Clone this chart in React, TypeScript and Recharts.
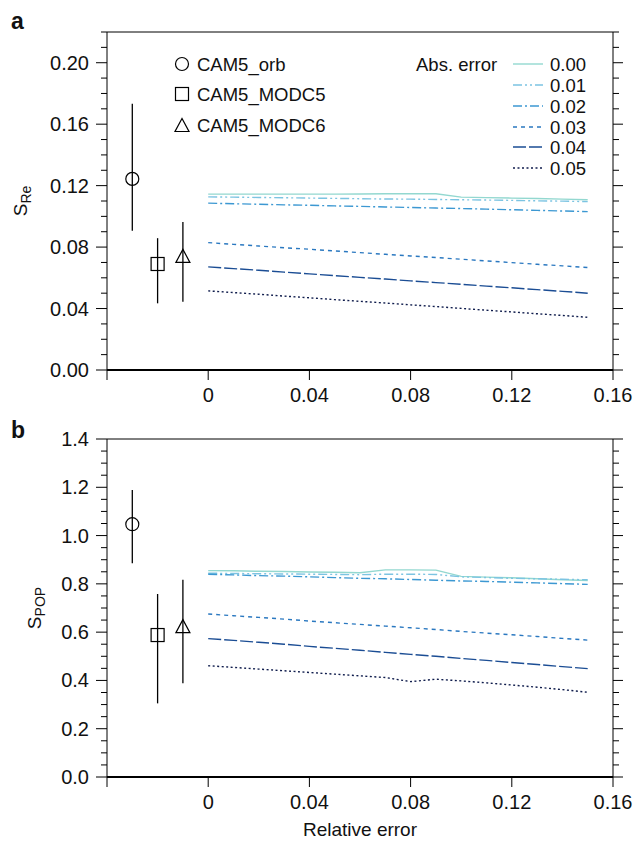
import { ComposedChart, Line, Scatter, ErrorBar, XAxis, YAxis, Legend } from "recharts";

// relative error (x) for the sensitivity curves
const relErr = [0, 0.01, 0.02, 0.03, 0.04, 0.05, 0.06, 0.07, 0.08, 0.09, 0.1, 0.11, 0.12, 0.13, 0.14, 0.15];
const absErrLabels = ["0.00", "0.01", "0.02", "0.03", "0.04", "0.05"];

// panel a: S_Re for abs. error 0.00 .. 0.05
const sRe0 = [0.1145, 0.1145, 0.1145, 0.1145, 0.1145, 0.1145, 0.1146, 0.1147, 0.1147, 0.1147, 0.1125, 0.1122, 0.1119, 0.1116, 0.1112, 0.1108];
const sRe1 = [0.1127, 0.1125, 0.1123, 0.1121, 0.1119, 0.1117, 0.1115, 0.1113, 0.1112, 0.111, 0.1108, 0.1106, 0.1104, 0.1101, 0.1099, 0.1096];
const sRe2 = [0.1086, 0.1082, 0.1079, 0.1075, 0.1072, 0.1068, 0.1065, 0.1061, 0.1058, 0.1054, 0.1051, 0.1047, 0.1043, 0.1039, 0.1035, 0.1031];
const sRe3 = [0.0829, 0.0818, 0.0807, 0.0796, 0.0786, 0.0775, 0.0764, 0.0753, 0.0742, 0.0732, 0.0721, 0.071, 0.0699, 0.0688, 0.0678, 0.0667];
const sRe4 = [0.0671, 0.066, 0.0649, 0.0637, 0.0626, 0.0614, 0.0603, 0.0592, 0.058, 0.0569, 0.0558, 0.0546, 0.0535, 0.0523, 0.0512, 0.05];
const sRe5 = [0.0515, 0.0504, 0.0493, 0.0481, 0.047, 0.0458, 0.0447, 0.0436, 0.0424, 0.0413, 0.0401, 0.0389, 0.0378, 0.0366, 0.0355, 0.0343];

// panel b: S_POP
const sPop0 = [0.855, 0.854, 0.852, 0.851, 0.849, 0.848, 0.846, 0.858, 0.858, 0.857, 0.831, 0.828, 0.825, 0.821, 0.817, 0.814];
const sPop1 = [0.844, 0.843, 0.842, 0.841, 0.84, 0.839, 0.838, 0.84, 0.84, 0.839, 0.829, 0.826, 0.823, 0.821, 0.819, 0.817];
const sPop2 = [0.84, 0.837, 0.834, 0.832, 0.829, 0.826, 0.823, 0.821, 0.818, 0.815, 0.812, 0.81, 0.807, 0.804, 0.801, 0.798];
const sPop3 = [0.675, 0.668, 0.661, 0.654, 0.646, 0.639, 0.632, 0.625, 0.618, 0.611, 0.603, 0.596, 0.589, 0.582, 0.574, 0.567];
const sPop4 = [0.573, 0.566, 0.558, 0.55, 0.541, 0.533, 0.525, 0.516, 0.508, 0.5, 0.491, 0.483, 0.474, 0.466, 0.457, 0.449];
const sPop5 = [0.461, 0.454, 0.447, 0.44, 0.433, 0.426, 0.419, 0.412, 0.395, 0.405, 0.398, 0.39, 0.381, 0.372, 0.362, 0.351];

// model estimates with ranges
const modelNames = ["CAM5_orb", "CAM5_MODC5", "CAM5_MODC6"];
const modelX = [-0.03, -0.02, -0.01];
const sReMean = [0.1244, 0.069, 0.0743];
const sReLow = [0.0906, 0.0434, 0.0445];
const sReHigh = [0.1733, 0.0858, 0.0964];
const sPopMean = [1.047, 0.588, 0.625];
const sPopLow = [0.885, 0.305, 0.388];
const sPopHigh = [1.189, 0.758, 0.817];

// axis ticks
const xTicks = [-0.04, 0, 0.04, 0.08, 0.12, 0.16];
const xTickLabels = ["", "0", "0.04", "0.08", "0.12", "0.16"];
const yTicksA = [0, 0.01, 0.02, 0.03, 0.04, 0.05, 0.06, 0.07, 0.08, 0.09, 0.1, 0.11, 0.12, 0.13, 0.14, 0.15, 0.16, 0.17, 0.18, 0.19, 0.2, 0.21, 0.22];
const yTicksB = [0, 0.05, 0.1, 0.15, 0.2, 0.25, 0.3, 0.35, 0.4, 0.45, 0.5, 0.55, 0.6, 0.65, 0.7, 0.75, 0.8, 0.85, 0.9, 0.95, 1, 1.05, 1.1, 1.15, 1.2, 1.25, 1.3, 1.35, 1.4];

const FONT = "'Liberation Sans', Arial, Helvetica, sans-serif";
const lineStyles = [
  { stroke: "#93d8d0", dash: undefined },
  { stroke: "#7cc4e2", dash: "9 3 2 3 2 3" },
  { stroke: "#3c98d2", dash: "9 3 2 3" },
  { stroke: "#2a78c0", dash: "4 4" },
  { stroke: "#1b4d94", dash: "13 3" },
  { stroke: "#101d4d", dash: "2 2.5" },
];

const shapes = [
  (p: any) => <circle cx={p.cx} cy={p.cy} r={6.5} fill="none" stroke="#000" strokeWidth={1.2} />,
  (p: any) => <rect x={p.cx - 6.5} y={p.cy - 6.5} width={13} height={13} fill="none" stroke="#000" strokeWidth={1.2} />,
  (p: any) => (
    <polygon
      points={`${p.cx},${p.cy - 6.5} ${p.cx - 7},${p.cy + 6.5} ${p.cx + 7},${p.cy + 6.5}`}
      fill="none"
      stroke="#000"
      strokeWidth={1.2}
    />
  ),
];

function leftTick(isMajor: (v: number) => boolean, fmt: (v: number) => string) {
  return (p: any) => {
    const v = p.payload.value;
    const major = isMajor(v);
    return (
      <g>
        <line x1={p.x - (major ? 11 : 6)} x2={p.x} y1={p.y} y2={p.y} stroke="#000" strokeWidth={1} />
        {major && (
          <text x={p.x - 18} y={p.y + 7} textAnchor="end" fontSize={20} fontFamily={FONT} fill="#111">
            {fmt(v)}
          </text>
        )}
      </g>
    );
  };
}

function rightTick(isMajor: (v: number) => boolean) {
  return (p: any) => {
    const major = isMajor(p.payload.value);
    return <line x1={p.x} x2={p.x + (major ? 10 : 6)} y1={p.y} y2={p.y} stroke="#000" strokeWidth={1} />;
  };
}

function yLabel(sub: string, dx: number) {
  return (p: any) => {
    const vb = p.viewBox;
    const cx = vb.x + dx;
    const cy = vb.y + vb.height / 2;
    return (
      <text
        x={cx}
        y={cy + 6.5}
        transform={`rotate(-90 ${cx} ${cy})`}
        textAnchor="middle"
        fontFamily={FONT}
        fill="#111"
        fontSize={19}
      >
        <tspan>S</tspan>
        <tspan dy={4} fontSize={14}>{sub}</tspan>
      </text>
    );
  };
}

function LegendA() {
  const rows = [64, 85, 106, 127, 147, 168];
  const mRows = [64, 94, 125];
  return (
    <svg width={636} height={200} style={{ display: "block" }}>
      {modelNames.map((n, i) => (
        <g key={n}>
          {shapes[i]({ cx: 182, cy: mRows[i] })}
          <text x={197} y={mRows[i] + 7} fontSize={18.5} fontFamily={FONT} fill="#111">
            {n}
          </text>
        </g>
      ))}
      <text x={416} y={71} fontSize={18.5} fontFamily={FONT} fill="#111">
        Abs. error
      </text>
      {absErrLabels.map((l, i) => (
        <g key={l}>
          <line x1={513} x2={543} y1={rows[i]} y2={rows[i]} stroke={lineStyles[i].stroke} strokeDasharray={lineStyles[i].dash} strokeWidth={1.4} />
          <text x={550} y={rows[i] + 7} fontSize={18.5} fontFamily={FONT} fill="#111">
            {l}
          </text>
        </g>
      ))}
    </svg>
  );
}

type PanelProps = {
  series: number[][];
  mean: number[];
  low: number[];
  high: number[];
  yMax: number;
  yTicks: number[];
  isMajor: (v: number) => boolean;
  fmt: (v: number) => string;
  height: number;
  top: number;
  bottomH: number;
  sub: string;
  labelDx: number;
  showLegend?: boolean;
  xLabel?: string;
};

function Panel(props: PanelProps) {
  const rows = relErr.map((x, i) => {
    const r: any = { x };
    props.series.forEach((s, k) => (r["e" + k] = s[i]));
    return r;
  });
  const pts = modelX.map((x, i) => ({
    x,
    y: props.mean[i],
    err: [props.mean[i] - props.low[i], props.high[i] - props.mean[i]],
  }));
  return (
    <ComposedChart width={636} height={props.height} margin={{ top: props.top, right: 0, bottom: 0, left: 0 }}>
      <XAxis
        xAxisId="b"
        dataKey="x"
        type="number"
        domain={[-0.04, 0.16]}
        ticks={xTicks}
        interval={0}
        allowDataOverflow
        height={props.bottomH}
        tickSize={10}
        tickMargin={8}
        tickFormatter={(_v: number, i: number) => xTickLabels[i]}
        tick={{ fill: "#111", fontSize: 20, fontFamily: FONT }}
        axisLine={{ stroke: "#000", strokeWidth: 2 }}
        tickLine={{ stroke: "#000" }}
        label={
          props.xLabel
            ? { value: props.xLabel, position: "insideBottom", offset: 5, fontSize: 19, fontFamily: FONT, fill: "#111" }
            : undefined
        }
      />
      <XAxis
        xAxisId="t"
        orientation="top"
        type="number"
        domain={[-0.04, 0.16]}
        ticks={xTicks}
        interval={0}
        allowDataOverflow
        height={10}
        tickSize={10}
        tickFormatter={() => ""}
        axisLine={{ stroke: "#000" }}
        tickLine={{ stroke: "#000" }}
      />
      <YAxis
        yAxisId="l"
        type="number"
        domain={[0, props.yMax]}
        ticks={props.yTicks}
        interval={0}
        allowDataOverflow
        width={107}
        tickSize={0}
        tickMargin={0}
        tickLine={false}
        tick={leftTick(props.isMajor, props.fmt)}
        axisLine={{ stroke: "#000" }}
        label={{ content: yLabel(props.sub, props.labelDx) }}
      />
      <YAxis
        yAxisId="r"
        orientation="right"
        type="number"
        domain={[0, props.yMax]}
        ticks={props.yTicks}
        interval={0}
        allowDataOverflow
        width={23}
        tickSize={0}
        tickMargin={0}
        tickLine={false}
        tick={rightTick(props.isMajor)}
        axisLine={{ stroke: "#000" }}
      />
      {props.series.map((_, k) => (
        <Line
          key={k}
          xAxisId="b"
          yAxisId="l"
          data={rows}
          dataKey={"e" + k}
          type="linear"
          stroke={lineStyles[k].stroke}
          strokeDasharray={lineStyles[k].dash}
          strokeWidth={1.4}
          dot={false}
          activeDot={false}
          isAnimationActive={false}
        />
      ))}
      {pts.map((pt, i) => (
        <Scatter
          key={modelNames[i]}
          name={modelNames[i]}
          xAxisId="b"
          yAxisId="l"
          data={[pt]}
          dataKey="y"
          shape={shapes[i]}
          isAnimationActive={false}
        >
          <ErrorBar dataKey="err" direction="y" width={0} stroke="#000" strokeWidth={1.3} isAnimationActive={false} />
        </Scatter>
      ))}
      {props.showLegend && (
        <Legend
          layout="vertical"
          align="center"
          verticalAlign="middle"
          content={() => <LegendA />}
          wrapperStyle={{ left: 0, top: 0, width: 636, height: 200, pointerEvents: "none" }}
        />
      )}
    </ComposedChart>
  );
}

export default function App() {
  const letter = { position: "absolute" as const, left: 11, fontFamily: FONT, fontWeight: 700, fontSize: 23, lineHeight: 1, color: "#111" };
  return (
    <div style={{ position: "absolute", left: 0, top: 0, width: 636, height: 841, background: "#fff" }}>
      <div style={{ position: "absolute", left: 0, top: 0 }}>
        <Panel
          series={[sRe0, sRe1, sRe2, sRe3, sRe4, sRe5]}
          mean={sReMean}
          low={sReLow}
          high={sReHigh}
          yMax={0.22}
          yTicks={yTicksA}
          isMajor={(v) => Math.round(v * 100) % 4 === 0}
          fmt={(v) => v.toFixed(2)}
          height={420}
          top={22}
          bottomH={50}
          sub="Re"
          labelDx={20}
          showLegend
        />
      </div>
      <div style={{ position: "absolute", left: 0, top: 420 }}>
        <Panel
          series={[sPop0, sPop1, sPop2, sPop3, sPop4, sPop5]}
          mean={sPopMean}
          low={sPopLow}
          high={sPopHigh}
          yMax={1.4}
          yTicks={yTicksB}
          isMajor={(v) => Math.round(v * 20) % 4 === 0}
          fmt={(v) => v.toFixed(1)}
          height={421}
          top={9}
          bottomH={64}
          sub="POP"
          labelDx={34}
          xLabel="Relative error"
        />
      </div>
      <div style={{ ...letter, top: 10 }}>a</div>
      <div style={{ ...letter, top: 419 }}>b</div>
    </div>
  );
}
